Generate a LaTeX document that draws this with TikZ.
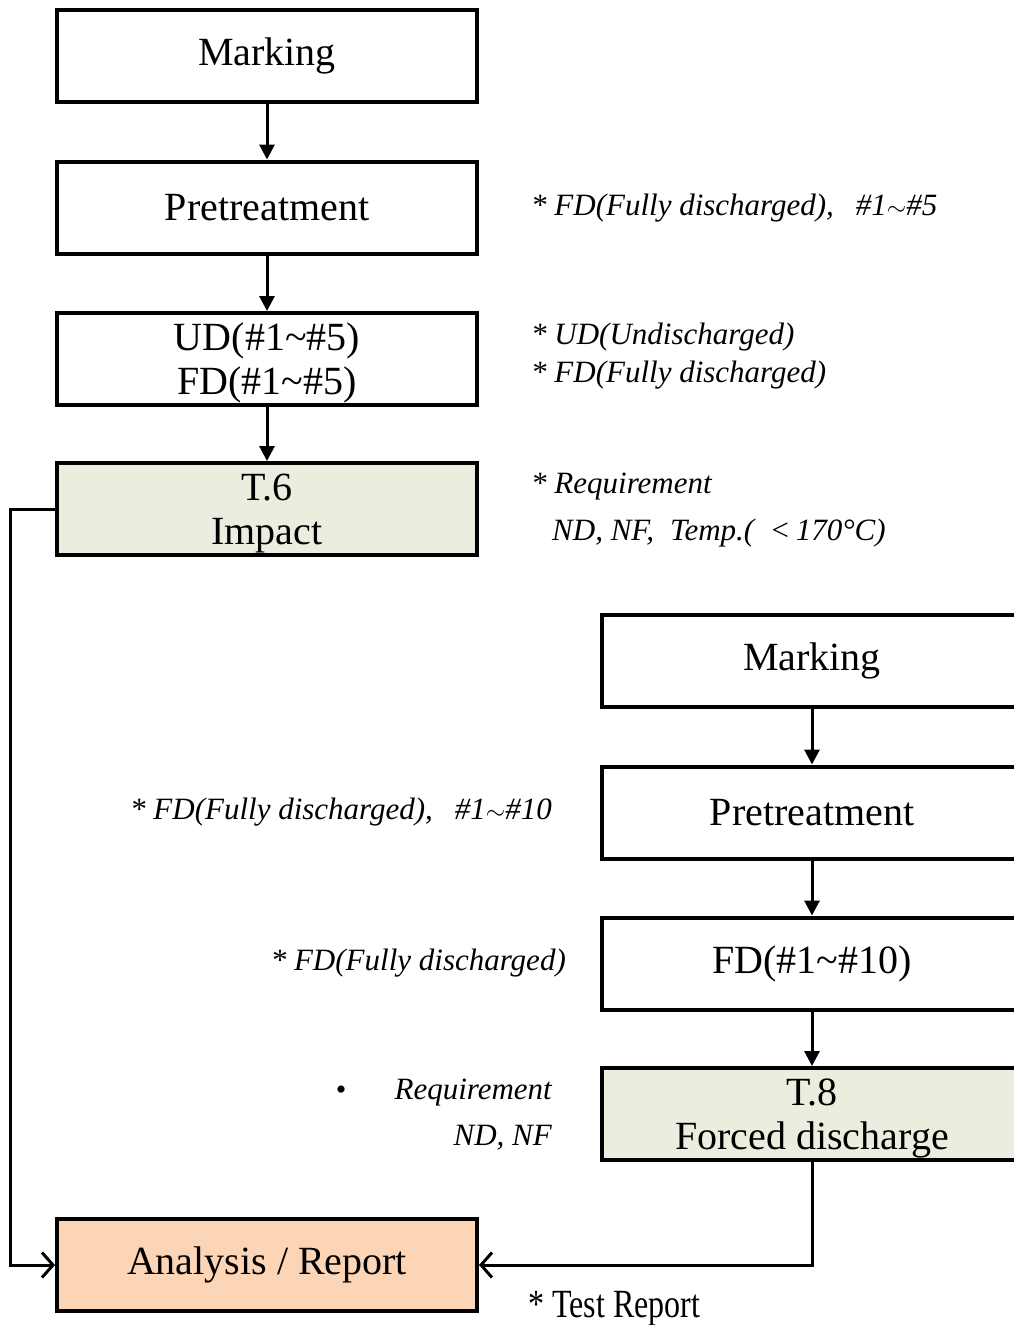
\documentclass[tikz,border=0pt]{standalone}
\usepackage{fontspec}
\setmainfont{Liberation Serif}
\usetikzlibrary{arrows.meta}
\definecolor{boxgreen}{HTML}{EBEEDE}
\definecolor{boxorange}{HTML}{FBD5B5}
\newfontfamily\narrowfont[FakeStretch=0.8]{Liberation Serif}
\newcommand{\twoline}[2]{\rule{0pt}{36pt}#1\\#2\rule[-9pt]{0pt}{9pt}}
\newcommand{\tld}{$\sim$}
\begin{document}
\begin{tikzpicture}[x=1pt,y=-1pt,
  box/.style={draw=black, line width=4pt, minimum width=420pt, minimum height=92pt, inner sep=0pt, align=center, font=\fontsize{40}{44}\selectfont},
  note/.style={font=\fontsize{31}{38}\selectfont\itshape, inner sep=0pt},
  flow/.style={line width=3pt, -{Triangle[width=15pt,length=15pt]}},
  ret/.style={line width=3pt, -{Straight Barb[width=25pt,length=11pt,line width=3pt]}}]
\clip (0,0) rectangle (1014,1325);
% left column
\node[box] (m1) at (267,55.5) {Marking};
\node[box] (p1) at (267,207.5) {Pretreatment};
\node[box] (s1) at (267,359) {\twoline{UD(\#1\textasciitilde\#5)}{FD(\#1\textasciitilde\#5)}};
\node[box, fill=boxgreen] (t6) at (267,509) {\twoline{T.6}{Impact}};
\node[box, fill=boxorange] (an) at (267,1265) {Analysis / Report};
% right column
\node[box] (m2) at (812,660.5) {Marking};
\node[box] (p2) at (812,812.5) {Pretreatment};
\node[box] (s2) at (812,963.5) {FD(\#1\textasciitilde\#10)};
\node[box, fill=boxgreen] (t8) at (812,1114) {\twoline{T.8}{Forced discharge}};
% connectors
\draw[flow] (m1) -- (p1);
\draw[flow] (p1) -- (s1);
\draw[flow] (s1) -- (t6);
\draw[flow] (m2) -- (p2);
\draw[flow] (p2) -- (s2);
\draw[flow] (s2) -- (t8);
\draw[ret] (t6.west) -- ++(-45,0) |- (an.west);
\draw[ret] (t8.south) |- (an.east);
% notes
\node[note, anchor=west] (n1) at (531,208) {* FD(Fully discharged),\hspace{22pt}\#1\tld\#5};
\node[note, anchor=west] (n2) at (531,337) {* UD(Undischarged)};
\node[note, anchor=west] (n3) at (531,375) {* FD(Fully discharged)};
\node[note, anchor=west] (n4) at (531,487) {* Requirement};
\node[note, anchor=west] (n5) at (552,533) {ND, NF,\hspace{16pt}Temp.(\enspace<\,170\textdegree C)};
\node[note, anchor=east] (n6) at (552,812) {* FD(Fully discharged),\hspace{22pt}\#1\tld\#10};
\node[note, anchor=east] (n7) at (566,963) {* FD(Fully discharged)};
\node[font=\fontsize{30}{38}\selectfont, inner sep=0pt] (b1) at (341,1093) {\textbullet};
\node[note, anchor=east] (n8) at (552,1093) {Requirement};
\node[note, anchor=east] (n9) at (552,1138) {ND, NF};
\node[font=\narrowfont\fontsize{40}{46}\selectfont, inner sep=0pt, anchor=west] (n10) at (528,1309) {* Test Report};
\end{tikzpicture}
\end{document}
